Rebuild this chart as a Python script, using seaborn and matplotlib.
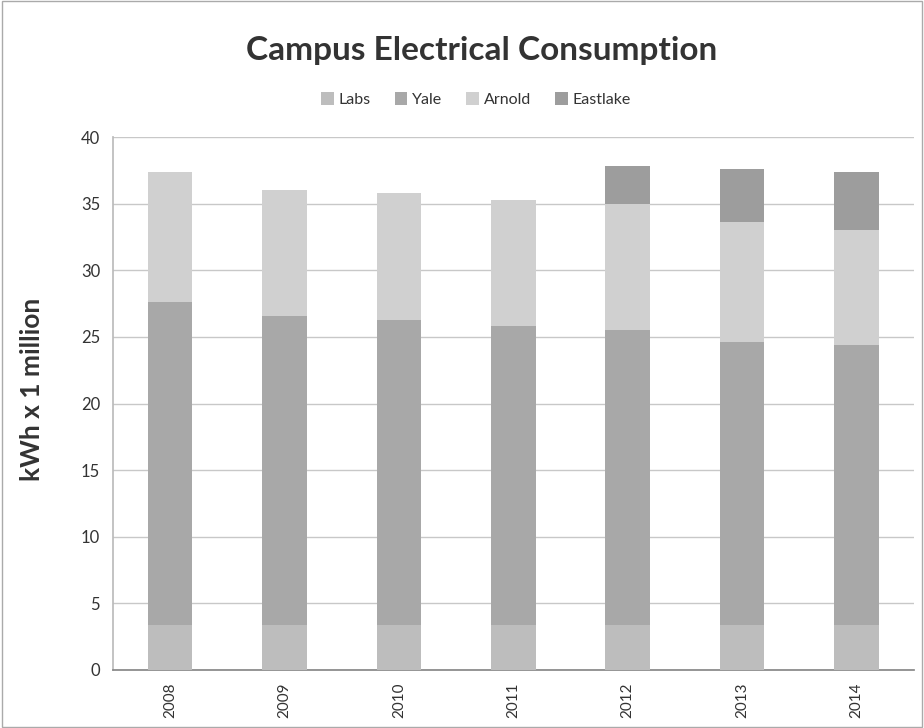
import numpy as np
import matplotlib
matplotlib.use("Agg")
import matplotlib.pyplot as plt
import seaborn as sns
from matplotlib.patches import Patch, Rectangle

years = ["2008", "2009", "2010", "2011", "2012", "2013", "2014"]
series = ["Labs", "Yale", "Arnold", "Eastlake"]
labs = [3.4, 3.4, 3.4, 3.4, 3.4, 3.4, 3.4]
yale = [24.2, 23.2, 22.9, 22.4, 22.1, 21.2, 21.0]
arnold = [9.8, 9.4, 9.5, 9.5, 9.5, 9.0, 8.6]
eastlake = [0.0, 0.0, 0.0, 0.0, 2.8, 4.0, 4.4]
y_ticks = [0, 5, 10, 15, 20, 25, 30, 35, 40]

colors = {"Labs": "#bdbdbd", "Yale": "#a8a8a8", "Arnold": "#d0d0d0", "Eastlake": "#9d9d9d"}

sns.set_theme(style="white")
plt.rcParams["font.family"] = ["Lato", "DejaVu Sans"]

fig = plt.figure(figsize=(9.24, 7.28), dpi=100)
ax = fig.add_axes([0.122, 0.0797, 0.867, 0.732])

values = [labs, yale, arnold, eastlake]
cums = np.cumsum(np.array(values), axis=0)
# draw from top of stack down so lower segments overlay
for i in range(len(series) - 1, -1, -1):
    sns.barplot(x=years, y=cums[i], color=colors[series[i]], width=0.39,
                saturation=1, ax=ax, zorder=3, edgecolor="none")

ax.set_ylim(0, 40)
ax.set_xlim(-0.5, 6.5)
ax.set_yticks(y_ticks)
ax.set_yticklabels([str(t) for t in y_ticks], fontsize=12, color="#333333")
ax.set_xticks(range(len(years)))
ax.set_xticklabels(years, rotation=90, fontsize=11, color="#333333")
ax.yaxis.grid(True, color="#c8c8c8", linewidth=1, zorder=0)
ax.set_axisbelow(True)
for s in ["top", "right"]:
    ax.spines[s].set_visible(False)
ax.spines["left"].set_color("#bbbbbb")
ax.spines["bottom"].set_color("#888888")
ax.tick_params(axis="both", length=0, pad=9)
ax.set_xlabel("")
ax.set_ylabel("")

fig.text(0.521, 0.931, "Campus Electrical Consumption", ha="center", va="center",
         fontsize=24, fontweight="bold", color="#333333")
fig.text(0.035, 0.465, "kWh x 1 million", ha="center", va="center", rotation=90,
         fontsize=19, fontweight="bold", color="#333333")

handles = [Patch(facecolor=colors[s], edgecolor="none", label=s) for s in series]
fig.legend(handles=handles, loc="center", bbox_to_anchor=(0.515, 0.863), ncol=4,
           frameon=False, fontsize=11.5, handlelength=0.8, handleheight=0.8,
           handletextpad=0.3, columnspacing=1.5, labelcolor="#333333")

fig.patches.append(Rectangle((0.002, 0.002), 0.996, 0.996, transform=fig.transFigure,
                             fill=False, edgecolor="#aaaaaa", linewidth=1))

fig.savefig("out.png", dpi=100)
